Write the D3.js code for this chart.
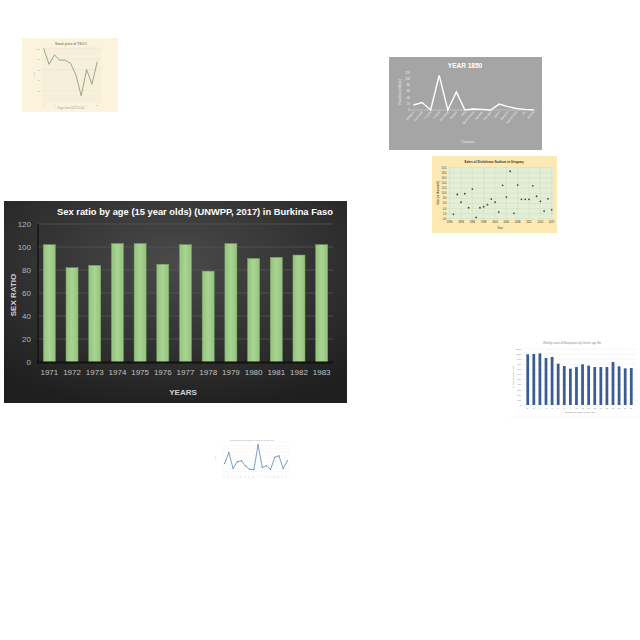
<!DOCTYPE html>
<html><head><meta charset="utf-8">
<script src="https://cdn.jsdelivr.net/npm/d3@7"></script>
<style>body{margin:0;background:#fff}svg{display:block}text{font-family:"Liberation Sans",Arial,sans-serif}</style>
</head><body>
<svg id="c" width="640" height="640"></svg>
<script>
// ---- Main chart data ----
const years = ["1971","1972","1973","1974","1975","1976","1977","1978","1979","1980","1981","1982","1983"];
const sexRatio = [102,82,84,103,103,85,102,79,103,90,91,93,102];
const sexTicks = [0,20,40,60,80,100,120];

// ---- Thumbnail: stock price ----
const stockX = [0,1,2,3,4,5,6,7,8,9,10];
const stockY = [100,70,88,78,78,72,50,10,60,32,75];

// ---- Thumbnail: YEAR 1850 ----
const countries1850 = ["Belgium","Denmark","Finland","France","Germany","Greece","Italy","Netherlands","Norway","Portugal","Spain","Sweden","Switzerland","UK","Ireland"];
const pop1850 = [16,24,0,111,0,58,0,3,2,0,19,11,5,2,0];
const ticks1850 = [0,20,40,60,80,100,120];

// ---- Thumbnail: scatter sales ----
const salesYears = [1991,1992,1993,1994,1995,1996,1997,1998,1999,2000,2001,2002,2003,2004,2005,2006,2007,2008,2009,2010,2011,2012,2013,2014,2015,2016,2017];
const salesVals = [1.7,9.5,6.5,9.8,4.3,11.6,0.5,4.3,4.7,5.5,7.7,6.5,2.6,13.1,8.5,18.6,2.1,13.2,7.6,7.6,7.6,12.9,8.8,6.8,3.0,7.8,3.5];
const salesXTicks = [1990,1993,1996,1999,2002,2005,2008,2011,2014,2017];
const salesYTicks = [0,2,4,6,8,10,12,14,16,18,20];

// ---- Thumbnail: weekly bars ----
const weeks = ["2","3","4","5","6","7","8","9","10","11","12","13","14","15","16","17","18","19"];
const weekCounts = [995,1002,1015,923,943,812,766,714,746,799,773,746,746,746,845,760,720,727];
const weekTicks = [0,100,200,300,400,500,600,700,800,900,1000,1100];

// ---- Thumbnail: small line ----
const smallLabels = ["A","B","C","D","E","F","G","H","I","J","K","L","M","N","O","P"];
const smallVals = [35,68,20,40,43,27,17,17,92,23,28,17,54,58,20,43];

const svg = d3.select("#c");
const defs = svg.append("defs");

// ================= MAIN CHART =================
const rg = defs.append("radialGradient").attr("id","bg").attr("cx","50%").attr("cy","30%").attr("r","75%");
rg.append("stop").attr("offset","0%").attr("stop-color","#4a4a4a");
rg.append("stop").attr("offset","100%").attr("stop-color","#1f1f1f");
const bg2 = defs.append("linearGradient").attr("id","barg").attr("x1","0").attr("x2","1").attr("y1","0").attr("y2","0");
bg2.append("stop").attr("offset","0%").attr("stop-color","#93c47d");
bg2.append("stop").attr("offset","50%").attr("stop-color","#a9d493");
bg2.append("stop").attr("offset","100%").attr("stop-color","#93c47d");

const M = {x:4,y:201,w:343,h:202};
const main = svg.append("g");
main.append("rect").attr("x",M.x).attr("y",M.y).attr("width",M.w).attr("height",M.h).attr("fill","url(#bg)");

const x = d3.scaleBand().domain(years).range([38,333]).paddingInner(0.47).paddingOuter(0.235);
const y = d3.scaleLinear().domain([0,120]).range([362,224]);

main.append("g").selectAll("line").data(sexTicks.slice(1)).join("line")
  .attr("x1",38).attr("x2",333).attr("y1",d=>y(d)).attr("y2",d=>y(d))
  .attr("stroke","#565656").attr("stroke-width",0.8);

main.append("g").selectAll("rect").data(years).join("rect")
  .attr("x",d=>x(d)).attr("width",x.bandwidth())
  .attr("y",(d,i)=>y(sexRatio[i])).attr("height",(d,i)=>y(0)-y(sexRatio[i]))
  .attr("fill","url(#barg)").attr("stroke","#7aa466").attr("stroke-width",0.5);

main.append("line").attr("x1",38).attr("x2",38).attr("y1",224).attr("y2",362).attr("stroke","#151515").attr("stroke-width",1.5);
main.append("line").attr("x1",37).attr("x2",333).attr("y1",362.5).attr("y2",362.5).attr("stroke","#111").attr("stroke-width",1.8);

const yAx = main.append("g").attr("transform","translate(38,0)").call(d3.axisLeft(y).tickValues(sexTicks).tickSize(0).tickPadding(7));
yAx.select(".domain").remove();
yAx.selectAll("text").attr("fill","#b5b5b5").attr("font-size","8px");

const xAx = main.append("g").attr("transform","translate(0,362)").call(d3.axisBottom(x).tickSize(0).tickPadding(7));
xAx.select(".domain").remove();
xAx.selectAll("text").attr("fill","#c0c0c0").attr("font-size","8px");

main.append("text").attr("x",195).attr("y",215).attr("text-anchor","middle")
  .attr("fill","#ffffff").attr("font-weight","bold").attr("font-size","9.5px")
  .attr("textLength",276).attr("lengthAdjust","spacingAndGlyphs")
  .text("Sex ratio by age (15 year olds) (UNWPP, 2017) in Burkina Faso");
main.append("text").attr("transform","translate(16,295) rotate(-90)").attr("text-anchor","middle")
  .attr("fill","#d0d0d0").attr("font-weight","bold").attr("font-size","8px").text("SEX RATIO");
main.append("text").attr("x",183).attr("y",395).attr("text-anchor","middle")
  .attr("fill","#d0d0d0").attr("font-weight","bold").attr("font-size","8px").text("YEARS");

// ================= THUMB 1: Stock price =================
const t1 = svg.append("g");
t1.append("rect").attr("x",22).attr("y",38).attr("width",96).attr("height",74).attr("fill","#fbf3dc");
t1.append("rect").attr("x",42).attr("y",47).attr("width",59).attr("height",56).attr("fill","#f6efdc");
const sx1 = d3.scaleLinear().domain([0,10]).range([43.7,97.3]);
const sy1 = d3.scaleLinear().domain([0,105]).range([101,46]);
t1.append("g").selectAll("line").data([20,40,60,80,100]).join("line")
  .attr("x1",42).attr("x2",101).attr("y1",d=>sy1(d)).attr("y2",d=>sy1(d)).attr("stroke","#ece4cc").attr("stroke-width",0.5);
t1.append("path").datum(stockY).attr("fill","none").attr("stroke","#8fa070").attr("stroke-width",0.9)
  .attr("d",d3.line().x((d,i)=>sx1(stockX[i])).y(d=>sy1(d)));
t1.append("text").attr("x",71).attr("y",45).attr("text-anchor","middle").attr("font-size","3.5px").attr("fill","#555").text("Stock price of TSCO");
t1.append("text").attr("x",71).attr("y",109).attr("text-anchor","middle").attr("font-size","2.6px").attr("fill","#999").text("Days since 2017-01-01");
t1.append("g").selectAll("text").data([20,40,60,80,100]).join("text")
  .attr("x",40).attr("y",d=>sy1(d)+1).attr("text-anchor","end").attr("font-size","2.4px").attr("fill","#aaa").text(d=>d);
t1.append("g").selectAll("text").data([0,2,4,6,8,10]).join("text")
  .attr("x",d=>sx1(d)).attr("y",106).attr("text-anchor","middle").attr("font-size","2.4px").attr("fill","#aaa").text(d=>d);
t1.append("text").attr("transform","translate(35,75) rotate(-90)").attr("text-anchor","middle").attr("font-size","2.4px").attr("fill","#aaa").text("Price");

// ================= THUMB 2: YEAR 1850 =================
const t2 = svg.append("g");
t2.append("rect").attr("x",389).attr("y",57).attr("width",153).attr("height",93).attr("fill","#a5a5a5");
const sx2 = d3.scalePoint().domain(countries1850).range([413.5,533.5]);
const sy2 = d3.scaleLinear().domain([0,120]).range([110,72.5]);
t2.append("line").attr("x1",411).attr("x2",537).attr("y1",110).attr("y2",110).attr("stroke","#d8d8d8").attr("stroke-width",0.5);
t2.append("path").datum(pop1850).attr("fill","none").attr("stroke","#fff").attr("stroke-width",1.4)
  .attr("d",d3.line().x((d,i)=>sx2(countries1850[i])).y(d=>sy2(d)));
t2.append("g").selectAll("text").data(ticks1850).join("text")
  .attr("x",410).attr("y",d=>sy2(d)+1).attr("text-anchor","end").attr("font-size","3px").attr("fill","#eee").text(d=>d);
t2.append("g").selectAll("text").data(countries1850).join("text")
  .attr("transform",d=>`translate(${sx2(d)+1},112) rotate(-50)`).attr("text-anchor","end").attr("font-size","3px").attr("fill","#eee").text(d=>d);
t2.append("text").attr("x",465).attr("y",68).attr("text-anchor","middle").attr("font-size","6.5px").attr("font-weight","bold").attr("fill","#fff").text("YEAR 1850");
t2.append("text").attr("x",468).attr("y",143).attr("text-anchor","middle").attr("font-size","3px").attr("fill","#eee").text("Countries");
t2.append("text").attr("transform","translate(401,92) rotate(-90)").attr("text-anchor","middle").attr("font-size","2.8px").attr("fill","#eee").text("Population (millions)");

// ================= THUMB 3: scatter =================
const t3 = svg.append("g");
t3.append("rect").attr("x",432).attr("y",156).attr("width",125).attr("height",77).attr("fill","#fde9b4");
t3.append("rect").attr("x",448).attr("y",167).attr("width",106).attr("height",52).attr("fill","#e3eed6");
const sx3 = d3.scaleLinear().domain([1990,2017]).range([449.7,551.7]);
const sy3 = d3.scaleLinear().domain([0,20]).range([218.7,167.7]);
t3.append("g").selectAll("line").data(salesYTicks).join("line")
  .attr("x1",448).attr("x2",554).attr("y1",d=>sy3(d)).attr("y2",d=>sy3(d)).attr("stroke","#c9d9bd").attr("stroke-width",0.4);
t3.append("g").selectAll("line").data(salesXTicks).join("line")
  .attr("y1",167).attr("y2",219).attr("x1",d=>sx3(d)).attr("x2",d=>sx3(d)).attr("stroke","#c9d9bd").attr("stroke-width",0.4);
t3.append("g").selectAll("circle").data(salesVals).join("circle")
  .attr("cx",(d,i)=>sx3(salesYears[i])).attr("cy",d=>sy3(d)).attr("r",0.9).attr("fill","#444");
t3.append("g").selectAll("text").data(salesYTicks).join("text")
  .attr("x",446.5).attr("y",d=>sy3(d)+1).attr("text-anchor","end").attr("font-size","2.6px").attr("fill","#333").text(d=>d.toFixed(1));
t3.append("g").selectAll("text").data(salesXTicks).join("text")
  .attr("x",d=>sx3(d)).attr("y",223).attr("text-anchor","middle").attr("font-size","2.6px").attr("fill","#333").text(d=>d);
t3.append("text").attr("x",494).attr("y",163).attr("text-anchor","middle").attr("font-size","3.2px").attr("font-weight","bold").attr("fill","#333").text("Sales of Diclofenac Sodium in Uruguay");
t3.append("text").attr("x",500).attr("y",229).attr("text-anchor","middle").attr("font-size","2.8px").attr("fill","#333").text("Year");
t3.append("text").attr("transform","translate(439,193) rotate(-90)").attr("text-anchor","middle").attr("font-size","2.6px").attr("fill","#333").text("Sales (in thousands)");

// ================= THUMB 4: weekly bars =================
const t4 = svg.append("g");
t4.append("rect").attr("x",508).attr("y",337).attr("width",132).attr("height",83).attr("fill","#fff");
t4.append("line").attr("x1",510).attr("x2",640).attr("y1",417).attr("y2",417).attr("stroke","#eee").attr("stroke-width",0.5);
const sx4 = d3.scaleBand().domain(weeks).range([523,636]).padding(0.55);
const sy4 = d3.scaleLinear().domain([0,1100]).range([405,349]);
t4.append("g").selectAll("line").data(weekTicks).join("line")
  .attr("x1",523).attr("x2",636).attr("y1",d=>sy4(d)).attr("y2",d=>sy4(d)).attr("stroke","#e6e6e6").attr("stroke-width",0.4);
t4.append("g").selectAll("rect").data(weekCounts).join("rect")
  .attr("x",(d,i)=>sx4(weeks[i])).attr("width",sx4.bandwidth())
  .attr("y",d=>sy4(d)).attr("height",d=>sy4(0)-sy4(d)).attr("fill","#3b5b94");
t4.append("g").selectAll("text").data(weekTicks).join("text")
  .attr("x",521).attr("y",d=>sy4(d)+0.8).attr("text-anchor","end").attr("font-size","2.2px").attr("fill","#777").text(d=>d);
t4.append("g").selectAll("text").data(weeks).join("text")
  .attr("x",d=>sx4(d)+sx4.bandwidth()/2).attr("y",408.5).attr("text-anchor","middle").attr("font-size","2.2px").attr("fill","#777").text(d=>d);
t4.append("text").attr("x",572).attr("y",344).attr("text-anchor","middle").attr("font-size","2.8px").attr("fill","#888").text("Weekly count of Mosquitoes by District age 8m");
t4.append("text").attr("x",580).attr("y",413).attr("text-anchor","middle").attr("font-size","2.4px").attr("fill","#777").text("Number of Week of the Year");
t4.append("text").attr("transform","translate(514,377) rotate(-90)").attr("text-anchor","middle").attr("font-size","2.3px").attr("fill","#777").text("Number of Mosquitoes");

// ================= THUMB 5: small line =================
const t5 = svg.append("g");
t5.append("rect").attr("x",212).attr("y",437).attr("width",81).attr("height",44).attr("fill","#fff");
const sx5 = d3.scalePoint().domain(smallLabels).range([224.7,287.3]);
const sy5 = d3.scaleLinear().domain([0,100]).range([475,442]);
t5.append("g").selectAll("line").data([0,10,20,30,40,50,60,70,80,90,100]).join("line")
  .attr("x1",222).attr("x2",290).attr("y1",d=>sy5(d)).attr("y2",d=>sy5(d)).attr("stroke","#eee").attr("stroke-width",0.3);
t5.append("path").datum(smallVals).attr("fill","none").attr("stroke","#5b8ab8").attr("stroke-width",0.8)
  .attr("d",d3.line().x((d,i)=>sx5(smallLabels[i])).y(d=>sy5(d)));
t5.append("g").selectAll("circle").data(smallVals).join("circle")
  .attr("cx",(d,i)=>sx5(smallLabels[i])).attr("cy",d=>sy5(d)).attr("r",0.5).attr("fill","#3c6a98");
t5.append("text").attr("x",252).attr("y",440.5).attr("text-anchor","middle").attr("font-size","2px").attr("fill","#999").text("Sales trend of the month by category for the year");
t5.append("g").selectAll("text").data(smallLabels).join("text")
  .attr("transform",d=>`translate(${sx5(d)},477) rotate(-45)`).attr("text-anchor","end").attr("font-size","1.8px").attr("fill","#aaa").text(d=>d);
t5.append("text").attr("transform","translate(216,458) rotate(-90)").attr("text-anchor","middle").attr("font-size","1.8px").attr("fill","#aaa").text("Sales");
</script>
</body></html>
